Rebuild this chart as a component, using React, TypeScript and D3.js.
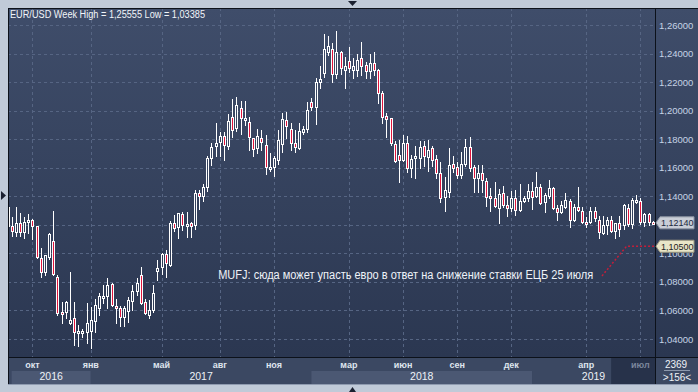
import React from "react";
import * as d3 from "d3";

// weekly EUR/USD bars, Aug 2016 .. Jul 2019 (156 bars on screen)
const opens = [
  1.1325, 1.1195, 1.1152, 1.1215, 1.1152, 1.1230, 1.1234, 1.1192, 1.0967, 1.0872,
  1.0973, 1.1087, 1.0837, 1.0590, 1.0592, 1.0515, 1.0545, 1.0448, 1.0450, 1.0452,
  1.0459, 1.0529, 1.0620, 1.0692, 1.0702, 1.0786, 1.0633, 1.0615, 1.0557, 1.0599,
  1.0669, 1.0739, 1.0849, 1.0662, 1.0569, 1.0604, 1.0879, 1.0902, 1.0994, 1.0919,
  1.1211, 1.1183, 1.1276, 1.1195, 1.1213, 1.1199, 1.1421, 1.1402, 1.1467, 1.1670,
  1.1755, 1.1783, 1.1822, 1.1752, 1.1953, 1.1876, 1.2016, 1.1934, 1.1923, 1.1806,
  1.1736, 1.1806, 1.1759, 1.1591, 1.1607, 1.1654, 1.1766, 1.1934, 1.1869, 1.1776,
  1.1740, 1.1848, 1.1869, 1.2063, 1.2028, 1.2203, 1.2262, 1.2413, 1.2432, 1.2257,
  1.2413, 1.2285, 1.2348, 1.2285, 1.2285, 1.2367, 1.2320, 1.2280, 1.2334, 1.2285,
  1.2122, 1.1963, 1.1946, 1.1766, 1.1689, 1.1654, 1.1775, 1.1597, 1.1666, 1.1670,
  1.1750, 1.1678, 1.1736, 1.1659, 1.1566, 1.1397, 1.1432, 1.1624, 1.1605, 1.1552,
  1.1624, 1.1748, 1.1605, 1.1526, 1.1561, 1.1507, 1.1401, 1.1386, 1.1320, 1.1421,
  1.1339, 1.1315, 1.1390, 1.1304, 1.1370, 1.1385, 1.1440, 1.1400, 1.1467, 1.1362,
  1.1402, 1.1455, 1.1315, 1.1288, 1.1327, 1.1367, 1.1234, 1.1327, 1.1297, 1.1222,
  1.1222, 1.1300, 1.1234, 1.1141, 1.1199, 1.1234, 1.1157, 1.1211, 1.1199, 1.1315,
  1.1203, 1.1370, 1.1367, 1.1222, 1.1274, 1.1218,
];
const highs = [
  1.1340, 1.1252, 1.1325, 1.1280, 1.1258, 1.1274, 1.1241, 1.1195, 1.1040, 1.0990,
  1.1141, 1.1297, 1.0845, 1.0662, 1.0669, 1.0872, 1.0662, 1.0498, 1.0470, 1.0655,
  1.0627, 1.0679, 1.0721, 1.0779, 1.0826, 1.0790, 1.0680, 1.0632, 1.0632, 1.0697,
  1.0779, 1.0826, 1.0907, 1.0680, 1.0674, 1.0779, 1.0954, 1.1000, 1.1024, 1.1225,
  1.1269, 1.1285, 1.1292, 1.1292, 1.1222, 1.1444, 1.1444, 1.1486, 1.1682, 1.1776,
  1.1916, 1.1850, 1.1850, 1.1977, 1.2080, 1.2098, 1.2065, 1.2065, 1.1958, 1.1810,
  1.1869, 1.1862, 1.1829, 1.1701, 1.1680, 1.1864, 1.1984, 1.1990, 1.1916, 1.1864,
  1.1916, 1.1890, 1.2063, 1.2090, 1.2227, 1.2316, 1.2535, 1.2523, 1.2475, 1.2555,
  1.2415, 1.2378, 1.2444, 1.2369, 1.2397, 1.2483, 1.2343, 1.2395, 1.2411, 1.2295,
  1.2140, 1.1981, 1.1950, 1.1790, 1.1794, 1.1829, 1.1820, 1.1690, 1.1750, 1.1790,
  1.1790, 1.1794, 1.1750, 1.1689, 1.1640, 1.1536, 1.1736, 1.1680, 1.1640, 1.1712,
  1.1801, 1.1815, 1.1620, 1.1620, 1.1620, 1.1530, 1.1455, 1.1500, 1.1450, 1.1470,
  1.1400, 1.1440, 1.1445, 1.1485, 1.1400, 1.1485, 1.1500, 1.1572, 1.1485, 1.1420,
  1.1515, 1.1465, 1.1340, 1.1370, 1.1420, 1.1380, 1.1345, 1.1468, 1.1325, 1.1255,
  1.1325, 1.1325, 1.1265, 1.1265, 1.1255, 1.1265, 1.1215, 1.1265, 1.1348, 1.1345,
  1.1385, 1.1409, 1.1385, 1.1286, 1.1286, 1.1225,
];
const lows = [
  1.1180, 1.1120, 1.1125, 1.1120, 1.1105, 1.1141, 1.1100, 1.0965, 1.0836, 1.0849,
  1.0960, 1.0850, 1.0565, 1.0515, 1.0550, 1.0505, 1.0360, 1.0350, 1.0415, 1.0370,
  1.0340, 1.0450, 1.0569, 1.0655, 1.0616, 1.0630, 1.0515, 1.0494, 1.0494, 1.0522,
  1.0604, 1.0709, 1.0645, 1.0576, 1.0545, 1.0592, 1.0814, 1.0853, 1.0837, 1.0910,
  1.1160, 1.1106, 1.1164, 1.1117, 1.1117, 1.1171, 1.1309, 1.1366, 1.1437, 1.1621,
  1.1683, 1.1683, 1.1655, 1.1730, 1.1818, 1.1860, 1.1835, 1.1900, 1.1725, 1.1680,
  1.1701, 1.1724, 1.1559, 1.1575, 1.1545, 1.1626, 1.1710, 1.1810, 1.1724, 1.1708,
  1.1732, 1.1835, 1.1850, 1.2005, 1.1906, 1.2161, 1.2238, 1.2390, 1.2203, 1.2231,
  1.2260, 1.2157, 1.2269, 1.2229, 1.2241, 1.2252, 1.2230, 1.2232, 1.2250, 1.2050,
  1.1910, 1.1818, 1.1760, 1.1640, 1.1502, 1.1645, 1.1572, 1.1537, 1.1525, 1.1600,
  1.1610, 1.1578, 1.1610, 1.1530, 1.1360, 1.1300, 1.1397, 1.1573, 1.1530, 1.1530,
  1.1610, 1.1575, 1.1430, 1.1430, 1.1430, 1.1335, 1.1300, 1.1325, 1.1211, 1.1325,
  1.1265, 1.1300, 1.1270, 1.1300, 1.1360, 1.1365, 1.1310, 1.1395, 1.1345, 1.1288,
  1.1390, 1.1310, 1.1235, 1.1280, 1.1320, 1.1188, 1.1225, 1.1300, 1.1215, 1.1185,
  1.1215, 1.1225, 1.1110, 1.1135, 1.1135, 1.1150, 1.1106, 1.1125, 1.1170, 1.1195,
  1.1180, 1.1355, 1.1205, 1.1195, 1.1200, 1.1205,
];
const closes = [
  1.1195, 1.1155, 1.1215, 1.1152, 1.1222, 1.1236, 1.1192, 1.0975, 1.0872, 1.0989,
  1.1135, 1.0853, 1.0584, 1.0585, 1.0662, 1.0535, 1.0448, 1.0455, 1.0458, 1.0510,
  1.0534, 1.0639, 1.0702, 1.0700, 1.0779, 1.0639, 1.0622, 1.0557, 1.0615, 1.0674,
  1.0739, 1.0795, 1.0652, 1.0585, 1.0604, 1.0721, 1.0895, 1.0996, 1.0931, 1.1211,
  1.1176, 1.1281, 1.1199, 1.1203, 1.1190, 1.1421, 1.1402, 1.1463, 1.1666, 1.1748,
  1.1771, 1.1822, 1.1759, 1.1930, 1.1864, 1.2040, 1.1946, 1.1946, 1.1813, 1.1729,
  1.1822, 1.1778, 1.1607, 1.1603, 1.1666, 1.1794, 1.1939, 1.1892, 1.1771, 1.1748,
  1.1857, 1.1869, 1.2005, 1.2028, 1.2199, 1.2222, 1.2432, 1.2455, 1.2257, 1.2413,
  1.2300, 1.2315, 1.2301, 1.2311, 1.2355, 1.2315, 1.2280, 1.2334, 1.2285, 1.2126,
  1.1958, 1.1940, 1.1771, 1.1647, 1.1654, 1.1775, 1.1600, 1.1659, 1.1680, 1.1748,
  1.1684, 1.1724, 1.1654, 1.1566, 1.1386, 1.1444, 1.1619, 1.1600, 1.1552, 1.1624,
  1.1748, 1.1600, 1.1526, 1.1561, 1.1514, 1.1397, 1.1386, 1.1330, 1.1413, 1.1339,
  1.1320, 1.1390, 1.1304, 1.1370, 1.1385, 1.1440, 1.1395, 1.1467, 1.1351, 1.1409,
  1.1455, 1.1315, 1.1292, 1.1339, 1.1374, 1.1234, 1.1327, 1.1304, 1.1222, 1.1210,
  1.1297, 1.1245, 1.1152, 1.1199, 1.1235, 1.1157, 1.1211, 1.1170, 1.1339, 1.1203,
  1.1374, 1.1374, 1.1222, 1.1274, 1.1222, 1.1214,
];

const priceTicks = [1.04, 1.06, 1.08, 1.1, 1.12, 1.14, 1.16, 1.18, 1.2, 1.22, 1.24, 1.26];
const monthLabels = ["окт", "янв", "май", "авг", "ноя", "мар", "июн", "сен", "дек", "апр", "июл"];
const monthBars = [6, 20, 37, 51, 64, 82, 95, 108, 121, 139, 152];
const yearLabels = ["2016", "2017", "2018", "2019"];
const yearStartBars = [1, 20, 73, 126];

const lastPrice = 1.1214;
const targetPrice = 1.105;
const targetBar = 148.7;
const noteBar = 50.6;
const notePrice = 1.0822;
const noteEndBar = 142.8;
const noteEndPrice = 1.0842;
const thumbBar = 145;

const titleText = "EUR/USD Week High = 1,25555 Low = 1,03385";
const noteText = "MUFJ: сюда может упасть евро в ответ на снижение ставки ЕЦБ 25 июля";
const totalBars = "2369";
const shownBars = ">156<";

const W = 698, H = 392;
const L = 8, T = 8, R = 655, B = 357, AB = 385;

export default function App() {
  const n = opens.length;
  const x = d3.scaleLinear().domain([0, n - 1]).range([7.5, 652.8]);
  const y = d3.scaleLinear().domain([1.04, 1.26]).range([339, 25]);
  const fmt = (v: number) => d3.format(".5f")(v).replace(".", ",");
  const font = "'Liberation Sans', Arial, sans-serif";
  const snap = (v: number) => Math.round(v) + 0.5;

  const candles = opens.map((o, i) => {
    const c = closes[i];
    const px = Math.round(x(i));
    const yt = Math.round(y(Math.max(o, c)));
    let yb = Math.round(y(Math.min(o, c)));
    if (yb - yt < 2) yb = yt + 2;
    const yh = Math.min(Math.round(y(highs[i])), yt);
    const yl = Math.max(Math.round(y(lows[i])), yb);
    return { px, yt, yb, yh, yl, bear: c < o };
  });

  const tag = (p: number) => {
    const cy = y(p);
    return `M${R + 1},${cy} L${R + 5},${cy - 6} L${R + 39},${cy - 6} L${R + 39},${cy + 6} L${R + 5},${cy + 6} Z`;
  };

  // the price tags sit on top of the axis labels; the label under the last-price tag is fully covered
  const axisTicks = priceTicks.filter((p) => Math.abs(y(p) - y(lastPrice)) > 7);
  const tgtY = y(targetPrice);

  const yearStarts = yearStartBars.map((b) => x(b));
  const yearEnds = yearStarts.slice(1).concat([R]);

  return (
    <svg width={W} height={H} style={{ position: "absolute", left: 0, top: 0 }}>
      <defs>
        <linearGradient id="plotBg" gradientUnits="userSpaceOnUse" x1={0} y1={T} x2={0} y2={B}>
          <stop offset="0%" stopColor="#3f4d6a" />
          <stop offset="100%" stopColor="#2b3751" />
        </linearGradient>
        <clipPath id="plotClip">
          <rect x={L + 1} y={T + 1} width={R - L - 1} height={B - T - 1} />
        </clipPath>
        <clipPath id="underTag">
          <rect x={R + 1} y={tgtY + 6.5} width={W - R} height={20} />
        </clipPath>
      </defs>

      <rect x={0} y={0} width={W} height={H} fill="#c0cad8" />
      <rect x={L} y={T} width={W - L} height={B - T} fill="url(#plotBg)" />
      <rect x={L} y={B} width={W - L} height={AB - B} fill="#3b4862" />

      {/* year bands */}
      {yearLabels.map((yr, k) => (
        <rect key={yr} x={yearStarts[k]} y={371} width={yearEnds[k] - yearStarts[k]} height={AB - 371}
          fill={k % 2 === 0 ? "#4b5873" : "#3b4862"} />
      ))}
      <rect x={x(thumbBar)} y={B + 1} width={R - x(thumbBar)} height={AB - B - 2} fill="#27324a" />

      {/* grid */}
      {priceTicks.map((p) => (
        <line key={p} x1={L} x2={R} y1={snap(y(p))} y2={snap(y(p))} stroke="#566583" strokeDasharray="3,3" />
      ))}
      {monthBars.map((b) => (
        <line key={b} x1={snap(x(b))} x2={snap(x(b))} y1={T} y2={B} stroke="#566583" strokeDasharray="3,3" />
      ))}

      {/* candles */}
      <g clipPath="url(#plotClip)">
        {candles.map((c, i) => (
          <g key={i}>
            <line x1={c.px + 0.5} x2={c.px + 0.5} y1={c.yh} y2={c.yl + 1} stroke="#ffffff" />
            <rect x={c.px - 0.5} y={c.yt + 0.5} width={2} height={c.yb - c.yt}
              fill={c.bear ? "#e0143c" : "url(#plotBg)"} stroke="#ffffff" />
          </g>
        ))}
      </g>

      {/* annotation */}
      <polyline
        points={`${x(noteEndBar)},${y(noteEndPrice)} ${x(targetBar)},${tgtY} ${R},${tgtY}`}
        fill="none" stroke="#c41e3a" strokeWidth={1.5} strokeDasharray="2,2" />
      <text x={x(noteBar)} y={y(notePrice)} fontFamily={font} fontSize={12} fill="#eef2f8"
        textLength={375} lengthAdjust="spacingAndGlyphs">{noteText}</text>

      {/* frame lines */}
      <line x1={L} x2={W} y1={T + 0.5} y2={T + 0.5} stroke="#0c111a" />
      <line x1={L + 0.5} x2={L + 0.5} y1={T} y2={AB} stroke="#0c111a" />
      <line x1={R + 0.5} x2={R + 0.5} y1={T} y2={AB} stroke="#0c111a" />
      <line x1={L} x2={W} y1={B + 0.5} y2={B + 0.5} stroke="#0c111a" />
      <line x1={L} x2={W} y1={AB - 0.5} y2={AB - 0.5} stroke="#8f9bb0" />

      {/* right axis */}
      {axisTicks.map((p) => (
        <text key={p} x={R + 4} y={y(p) + 3.5} fontFamily={font} fontSize={9.5} fill="#c6d3e6"
          clipPath={Math.abs(y(p) - tgtY) < 12 ? "url(#underTag)" : undefined}>{fmt(p)}</text>
      ))}
      <path d={tag(lastPrice)} fill="#c9ced7" stroke="#8c95a4" />
      <text x={R + 6} y={y(lastPrice) + 3.3} fontFamily={font} fontSize={9} fill="#1b2940">{fmt(lastPrice)}</text>
      <path d={tag(targetPrice)} fill="#e9e6c8" stroke="#9c9880" />
      <text x={R + 6} y={tgtY + 3.3} fontFamily={font} fontSize={9} fill="#222222">{fmt(targetPrice)}</text>

      {/* bottom axis */}
      {monthLabels.map((m, k) => (
        <text key={m} x={x(monthBars[k])} y={368} textAnchor="middle" fontFamily={font} fontSize={9}
          fontWeight={700} fill={k === monthLabels.length - 1 ? "#7b879c" : "#dfe5ee"}>{m}</text>
      ))}
      {yearLabels.map((yr, k) => (
        <text key={yr} x={(yearStarts[k] + yearEnds[k]) / 2} y={380} textAnchor="middle" fontFamily={font}
          fontSize={10.5} fill="#eef2f7">{yr}</text>
      ))}
      <text x={676} y={368} textAnchor="middle" fontFamily={font} fontSize={10} fill="#eef2f7">{totalBars}</text>
      <line x1={664} x2={690} y1={370.5} y2={370.5} stroke="#8d99ad" />
      <text x={677} y={380.5} textAnchor="middle" fontFamily={font} fontSize={10} fill="#eef2f7">{shownBars}</text>

      {/* title */}
      <text x={10} y={18} fontFamily={font} fontSize={10} fill="#f2f5f9" textLength={195}
        lengthAdjust="spacingAndGlyphs">{titleText}</text>

      {/* scroll markers */}
      <path d="M348,1 L357,1 L352.5,6 Z" fill="#1a2030" />
      <path d="M1,191 L1,200 L6,195.5 Z" fill="#1a2030" />
      <path d="M349,392 L356,392 L352.5,387 Z" fill="#1a2030" />
    </svg>
  );
}
